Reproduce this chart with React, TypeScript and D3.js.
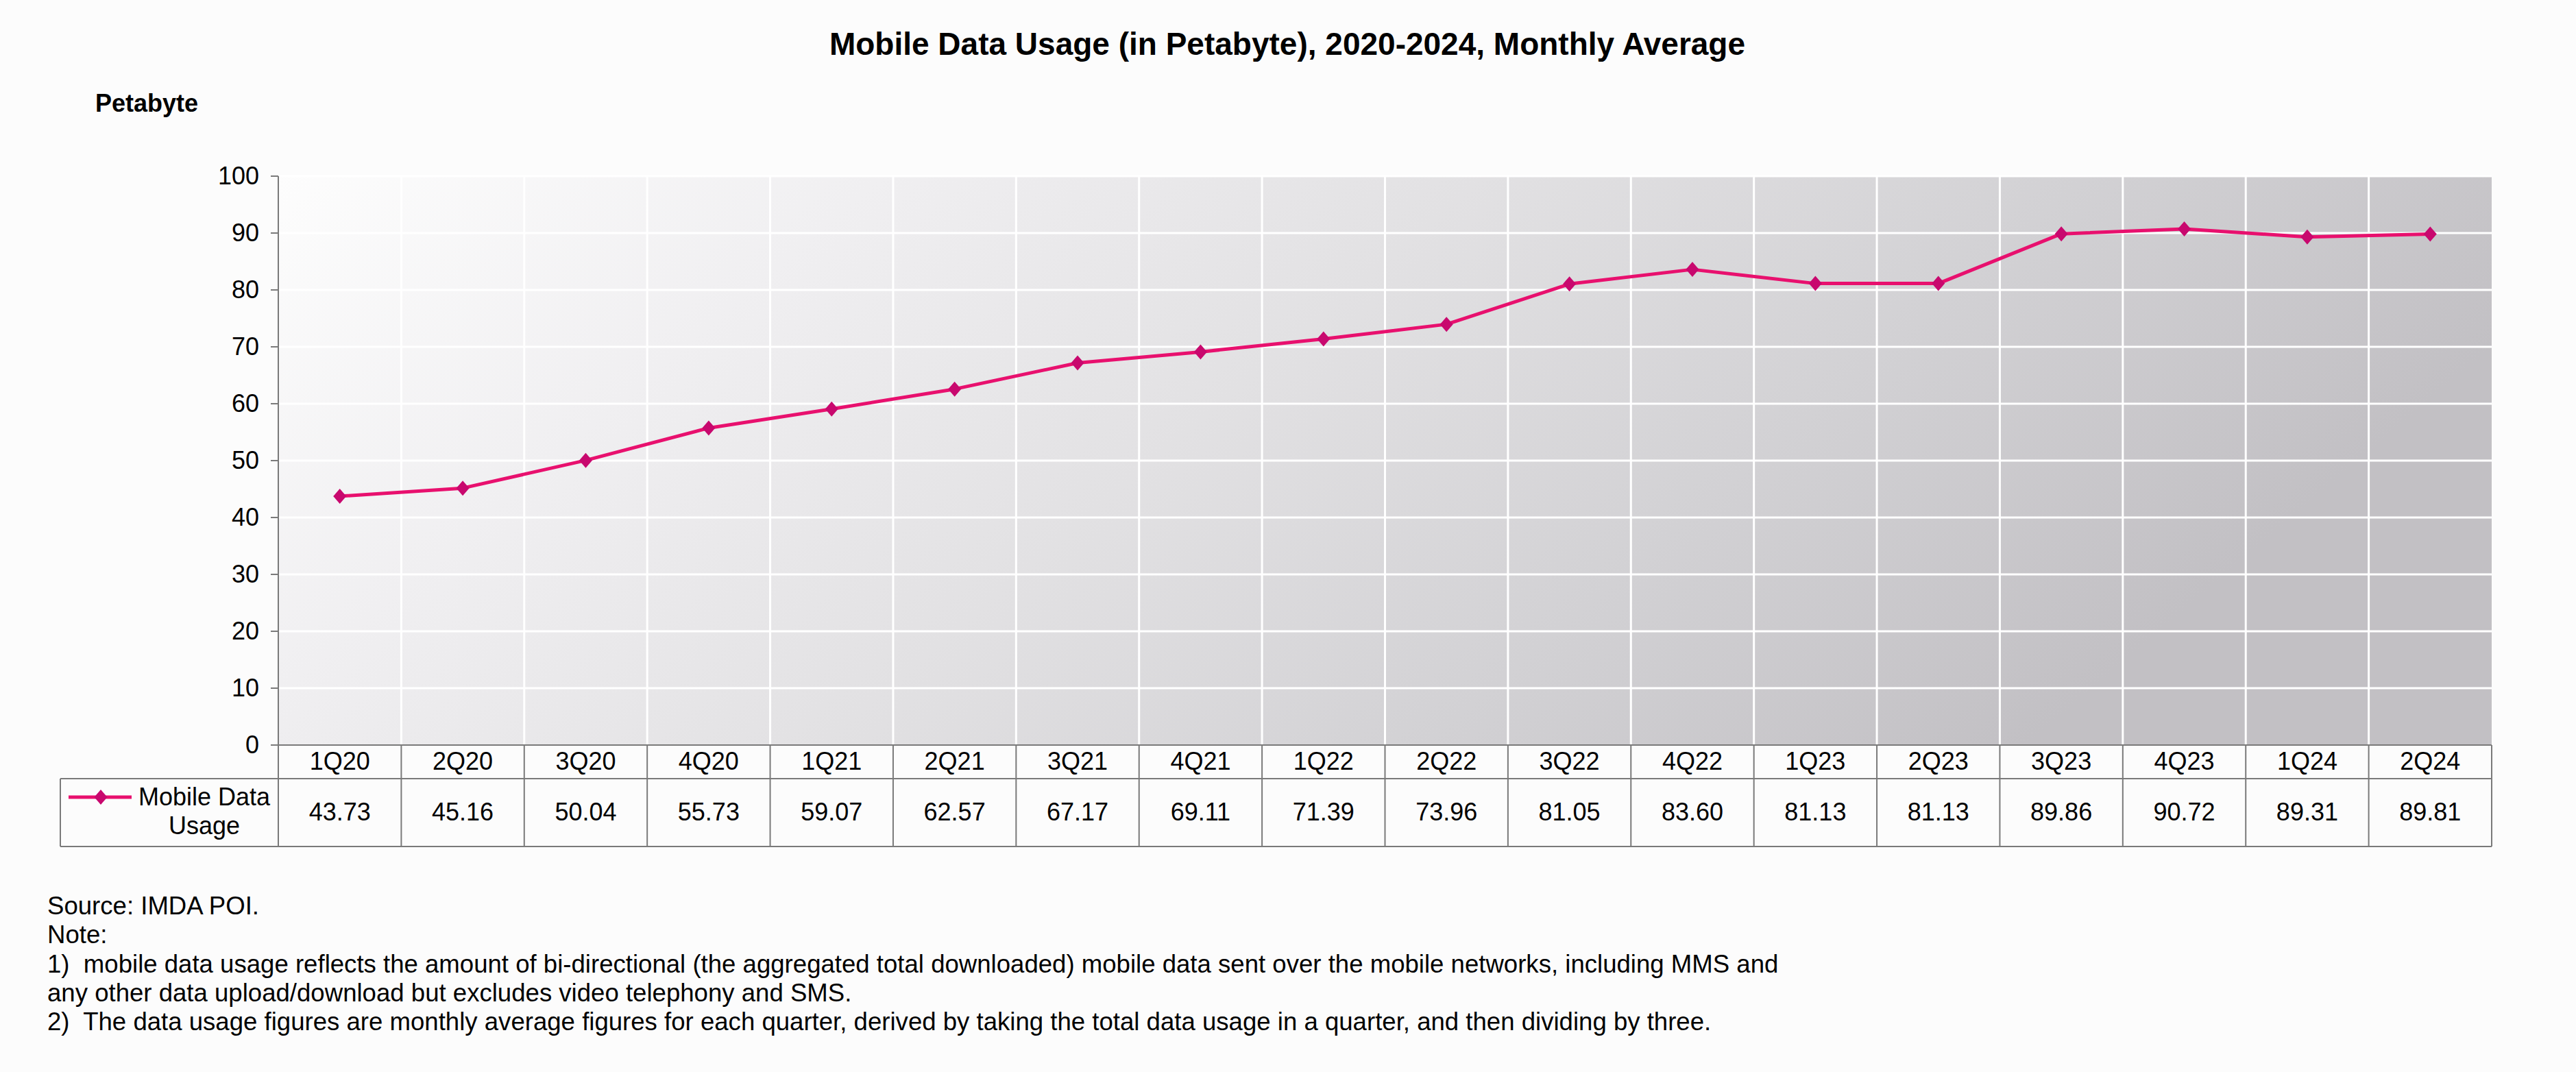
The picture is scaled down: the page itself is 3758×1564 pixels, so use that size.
import React from "react";
import * as d3 from "d3";

const categories = ["1Q20","2Q20","3Q20","4Q20","1Q21","2Q21","3Q21","4Q21","1Q22","2Q22","3Q22","4Q22","1Q23","2Q23","3Q23","4Q23","1Q24","2Q24"];
const values = [43.73,45.16,50.04,55.73,59.07,62.57,67.17,69.11,71.39,73.96,81.05,83.60,81.13,81.13,89.86,90.72,89.31,89.81];
const yTicks = [0,10,20,30,40,50,60,70,80,90,100];
const seriesName = ["Mobile Data", "Usage"];
const title = "Mobile Data Usage (in Petabyte), 2020-2024, Monthly Average";
const yAxisTitle = "Petabyte";
const notes = [
  "Source: IMDA POI.",
  "Note:",
  "1)  mobile data usage reflects the amount of bi-directional (the aggregated total downloaded) mobile data sent over the mobile networks, including MMS and",
  "any other data upload/download but excludes video telephony and SMS.",
  "2)  The data usage figures are monthly average figures for each quarter, derived by taking the total data usage in a quarter, and then dividing by three.",
];

const W = 3758, H = 1564;
const FONT = "'Liberation Sans', Arial, Helvetica, sans-serif";
const LINE = "#e8106e";
const MARK = "#c8086e";
const BORDER = "#7a7a7a";
const DIAMOND = "M0,-11L9.5,0L0,11L-9.5,0Z";

export default function App() {
  const left = 406, right = 3635, top = 257, bottom = 1087;
  const row1 = 1136, row2 = 1235, legendLeft = 88;
  const x = d3.scaleBand<string>().domain(categories).range([left, right]).padding(0);
  const y = d3.scaleLinear().domain([0, 100]).range([bottom, top]);
  const cx = (c: string) => (x(c) as number) + x.bandwidth() / 2;
  const line = d3.line<number>().x((_, i) => cx(categories[i])).y(d => y(d));
  const bounds = categories.map(c => x(c) as number).concat([right]);

  return (
    <svg width={W} height={H} style={{ position: "absolute", left: 0, top: 0, display: "block" }} fontFamily={FONT}>
      <defs>
        <linearGradient id="bg" x1="0" y1="0" x2="1" y2="0.3">
          <stop offset="0" stopColor="#fdfdfd" />
          <stop offset="0.25" stopColor="#f0eff1" />
          <stop offset="0.5" stopColor="#e2e1e3" />
          <stop offset="0.75" stopColor="#d2d1d4" />
          <stop offset="1" stopColor="#c2c0c4" />
        </linearGradient>
      </defs>
      <rect x={0} y={0} width={W} height={H} fill="#fcfcfc" />
      <text x={1878} y={80} textAnchor="middle" fontSize={46} fontWeight="bold" fill="#000">{title}</text>
      <text x={139} y={163} fontSize={36} fontWeight="bold" fill="#000">{yAxisTitle}</text>

      <rect x={left} y={top} width={right - left} height={bottom - top} fill="url(#bg)" />
      {yTicks.filter(t => t > 0).map(t => (
        <line key={"h" + t} x1={left} x2={right} y1={y(t)} y2={y(t)} stroke="#ffffff" strokeWidth={3} />
      ))}
      {bounds.slice(1, -1).map((b, i) => (
        <line key={"v" + i} x1={b} x2={b} y1={top} y2={bottom} stroke="#ffffff" strokeWidth={3} />
      ))}

      <line x1={left} x2={left} y1={top} y2={bottom} stroke={BORDER} strokeWidth={2} />
      {yTicks.map(t => (
        <g key={"t" + t}>
          <line x1={left - 11} x2={left} y1={y(t)} y2={y(t)} stroke={BORDER} strokeWidth={2} />
          <text x={left - 28} y={y(t) + 12} textAnchor="end" fontSize={36} fill="#000">{t}</text>
        </g>
      ))}

      <path d={line(values) || ""} fill="none" stroke={LINE} strokeWidth={5} strokeLinejoin="round" />
      {values.map((v, i) => (
        <path key={"m" + i} d={DIAMOND} transform={`translate(${cx(categories[i])},${y(v)})`} fill={MARK} />
      ))}

      {/* data table */}
      <g fill="none" stroke={BORDER} strokeWidth={2}>
        <line x1={left} x2={right} y1={bottom} y2={bottom} />
        <line x1={legendLeft} x2={right} y1={row1} y2={row1} />
        <line x1={legendLeft} x2={right} y1={row2} y2={row2} />
        <line x1={legendLeft} x2={legendLeft} y1={row1} y2={row2} />
        {bounds.map((b, i) => (
          <line key={"c" + i} x1={b} x2={b} y1={bottom} y2={row2} />
        ))}
      </g>
      {categories.map(c => (
        <text key={"cl" + c} x={cx(c)} y={1123} textAnchor="middle" fontSize={36} fill="#000">{c}</text>
      ))}
      {values.map((v, i) => (
        <text key={"vl" + i} x={cx(categories[i])} y={1197} textAnchor="middle" fontSize={36} fill="#000">{v.toFixed(2)}</text>
      ))}
      <line x1={100} x2={192} y1={1163} y2={1163} stroke={LINE} strokeWidth={5} />
      <path d={DIAMOND} transform={`translate(147,1163)`} fill={MARK} />
      <text x={298} y={1175} textAnchor="middle" fontSize={36} fill="#000">{seriesName[0]}</text>
      <text x={298} y={1217} textAnchor="middle" fontSize={36} fill="#000">{seriesName[1]}</text>

      {notes.map((n, i) => (
        <text key={"n" + i} x={69} y={1334 + i * 42.3} fontSize={36.6} fill="#000" style={{ whiteSpace: "pre" }}>{n}</text>
      ))}
    </svg>
  );
}
